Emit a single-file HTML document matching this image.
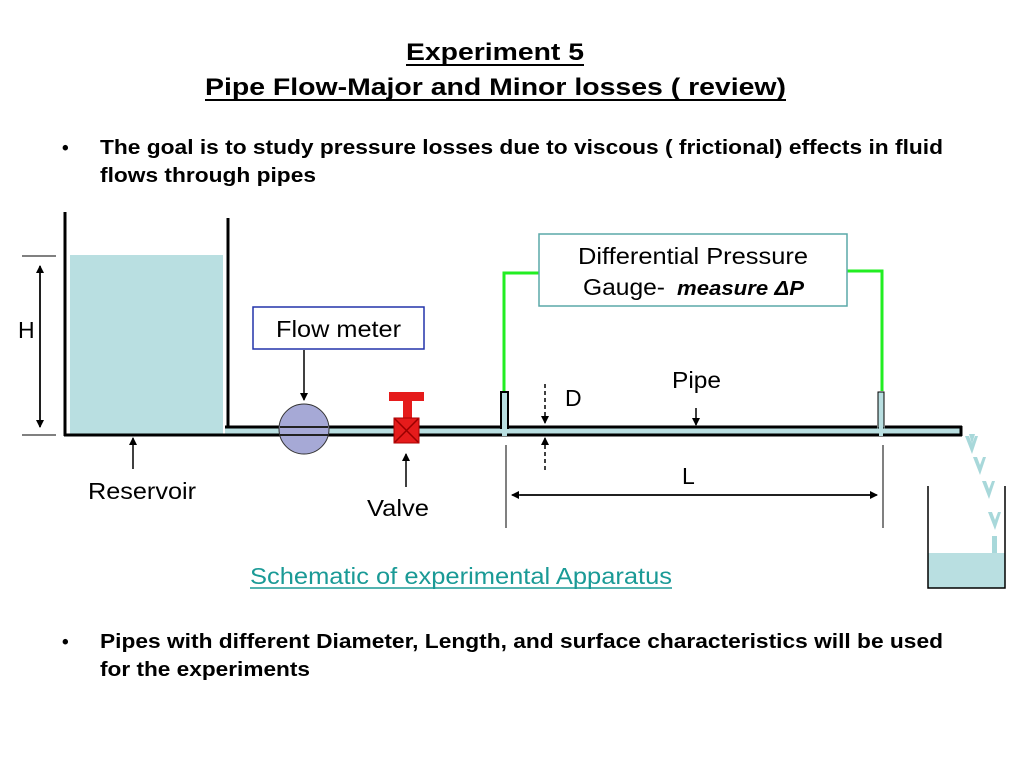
<!DOCTYPE html>
<html><head><meta charset="utf-8"><style>
body{margin:0;background:#fff;width:1024px;height:768px;overflow:hidden;font-family:"Liberation Sans",Arial,sans-serif}
</style></head><body>
<svg width="1024" height="768" viewBox="0 0 1024 768" xmlns="http://www.w3.org/2000/svg" font-family="Liberation Sans, Arial, sans-serif">
<defs>
<marker id="a" markerWidth="8" markerHeight="8" refX="7" refY="4" orient="auto" markerUnits="userSpaceOnUse"><path d="M0,0 L8,4 L0,8 z" fill="#000"/></marker>
</defs>
<g font-weight="bold" fill="#000">
<text x="406" y="60" font-size="24" textLength="178" lengthAdjust="spacingAndGlyphs">Experiment 5</text>
<line x1="406" y1="65" x2="584" y2="65" stroke="#000" stroke-width="2"/>
<text x="205" y="95" font-size="24" textLength="581" lengthAdjust="spacingAndGlyphs">Pipe Flow-Major and Minor losses ( review)</text>
<line x1="205" y1="100" x2="786" y2="100" stroke="#000" stroke-width="2"/>
<text x="62" y="154" font-size="19">•</text>
<text x="100" y="154" font-size="20" textLength="843" lengthAdjust="spacingAndGlyphs">The goal is to study pressure losses due to viscous ( frictional) effects in fluid</text>
<text x="100" y="182" font-size="20" textLength="216" lengthAdjust="spacingAndGlyphs">flows through pipes</text>
<text x="62" y="648" font-size="19">•</text>
<text x="100" y="648" font-size="20" textLength="843" lengthAdjust="spacingAndGlyphs">Pipes with different Diameter, Length, and surface characteristics will be used</text>
<text x="100" y="676" font-size="20" textLength="210" lengthAdjust="spacingAndGlyphs">for the experiments</text>
</g>
<rect x="70" y="255" width="153" height="179" fill="#b9dfe1"/>
<line x1="65" y1="212" x2="65" y2="436" stroke="#000" stroke-width="3"/>
<line x1="228" y1="218" x2="228" y2="428" stroke="#000" stroke-width="3"/>
<line x1="64" y1="435" x2="228" y2="435" stroke="#000" stroke-width="3"/>
<line x1="22" y1="256" x2="56" y2="256" stroke="#000" stroke-width="1"/>
<line x1="22" y1="435" x2="56" y2="435" stroke="#000" stroke-width="1"/>
<line x1="40" y1="427" x2="40" y2="266" stroke="#000" stroke-width="1.5" marker-end="url(#a)"/>
<line x1="40" y1="266" x2="40" y2="427" stroke="#000" stroke-width="1.5" marker-end="url(#a)"/>
<text x="18" y="338" font-size="23">H</text>
<line x1="133" y1="469" x2="133" y2="438" stroke="#000" stroke-width="1.5" marker-end="url(#a)"/>
<text x="88" y="499" font-size="23" textLength="108" lengthAdjust="spacingAndGlyphs">Reservoir</text>
<rect x="225" y="427" width="737" height="8" fill="#b9dfe1"/>
<line x1="225" y1="427" x2="500" y2="427" stroke="#000" stroke-width="3"/>
<line x1="509" y1="427" x2="877" y2="427" stroke="#000" stroke-width="3"/>
<line x1="885" y1="427" x2="962" y2="427" stroke="#000" stroke-width="3"/>
<line x1="225" y1="435" x2="962" y2="435" stroke="#000" stroke-width="3"/>
<line x1="961" y1="426" x2="961" y2="436" stroke="#000" stroke-width="3"/>
<rect x="501" y="392" width="7" height="36" fill="#b9dfe1" stroke="#000" stroke-width="2"/>
<rect x="878" y="392" width="6" height="36" fill="#b9dfe1" stroke="#000" stroke-width="1"/>
<rect x="502" y="426" width="5" height="10" fill="#b9dfe1"/>
<rect x="879" y="426" width="4" height="10" fill="#b9dfe1"/>
<polyline points="504,391 504,273 539,273" fill="none" stroke="#22ee22" stroke-width="3"/>
<polyline points="847,271 882,271 882,391" fill="none" stroke="#22ee22" stroke-width="3"/>
<rect x="539" y="234" width="308" height="72" fill="#fff" stroke="#5aa9a8" stroke-width="1.5"/>
<text x="578" y="264" font-size="23" textLength="230" lengthAdjust="spacingAndGlyphs">Differential Pressure</text>
<text x="583" y="295" font-size="23" textLength="82" lengthAdjust="spacingAndGlyphs">Gauge-</text>
<text x="677" y="295" font-size="20" font-weight="bold" font-style="italic" textLength="127" lengthAdjust="spacingAndGlyphs">measure ΔP</text>
<circle cx="304" cy="429" r="25" fill="#a6a9d6" stroke="#333" stroke-width="1"/>
<line x1="280" y1="427" x2="328" y2="427" stroke="#222" stroke-width="2"/>
<line x1="280" y1="435" x2="328" y2="435" stroke="#222" stroke-width="2"/>
<rect x="253" y="307" width="171" height="42" fill="#fff" stroke="#2233aa" stroke-width="1.5"/>
<text x="276" y="337" font-size="23" textLength="125" lengthAdjust="spacingAndGlyphs">Flow meter</text>
<line x1="304" y1="350" x2="304" y2="400" stroke="#000" stroke-width="1.5" marker-end="url(#a)"/>
<rect x="389" y="392" width="35" height="9" fill="#e51b1b"/>
<rect x="403" y="400" width="9" height="18" fill="#e51b1b"/>
<rect x="394" y="418" width="25" height="25" fill="#e51b1b" stroke="#a00" stroke-width="1"/>
<path d="M395,419 L418,442 M418,419 L395,442" stroke="#900" stroke-width="1.5"/>
<line x1="406" y1="487" x2="406" y2="454" stroke="#000" stroke-width="1.5" marker-end="url(#a)"/>
<text x="367" y="516" font-size="23" textLength="62" lengthAdjust="spacingAndGlyphs">Valve</text>
<line x1="545" y1="384" x2="545" y2="423" stroke="#000" stroke-width="1.5" stroke-dasharray="4,3" marker-end="url(#a)"/>
<line x1="545" y1="470" x2="545" y2="438" stroke="#000" stroke-width="1.5" stroke-dasharray="4,3" marker-end="url(#a)"/>
<text x="565" y="406" font-size="23">D</text>
<text x="672" y="388" font-size="23" textLength="49" lengthAdjust="spacingAndGlyphs">Pipe</text>
<line x1="696" y1="408" x2="696" y2="425" stroke="#000" stroke-width="1.5" marker-end="url(#a)"/>
<line x1="506" y1="445" x2="506" y2="528" stroke="#000" stroke-width="1"/>
<line x1="883" y1="445" x2="883" y2="528" stroke="#000" stroke-width="1"/>
<line x1="520" y1="495" x2="877" y2="495" stroke="#000" stroke-width="1.5" marker-end="url(#a)"/>
<line x1="870" y1="495" x2="512" y2="495" stroke="#000" stroke-width="1.5" marker-end="url(#a)"/>
<text x="682" y="484" font-size="23">L</text>
<rect x="928" y="553" width="77" height="35" fill="#b9dfe1"/>
<polyline points="928,486 928,588 1005,588 1005,486" fill="none" stroke="#000" stroke-width="1.5"/>
<g fill="#a8d8da">
<path d="M965,436 l7,18 l6,-18 l-3,0 l-3,8 l-3,-8z M969,434 l3,10 l3,-10z"/>
<path d="M973,457 l7,18 l6,-18 l-3,0 l-3,8 l-3,-8z"/>
<path d="M982,481 l7,18 l6,-18 l-3,0 l-3,8 l-3,-8z"/>
<path d="M988,512 l7,18 l6,-18 l-3,0 l-3,8 l-3,-8z"/>
<rect x="992" y="536" width="5" height="17"/>
</g>
<text x="250" y="584" font-size="23" fill="#1a9a96" textLength="422" lengthAdjust="spacingAndGlyphs">Schematic of experimental Apparatus</text>
<line x1="250" y1="588" x2="672" y2="588" stroke="#1a9a96" stroke-width="1.5"/>
</svg>
</body></html>
